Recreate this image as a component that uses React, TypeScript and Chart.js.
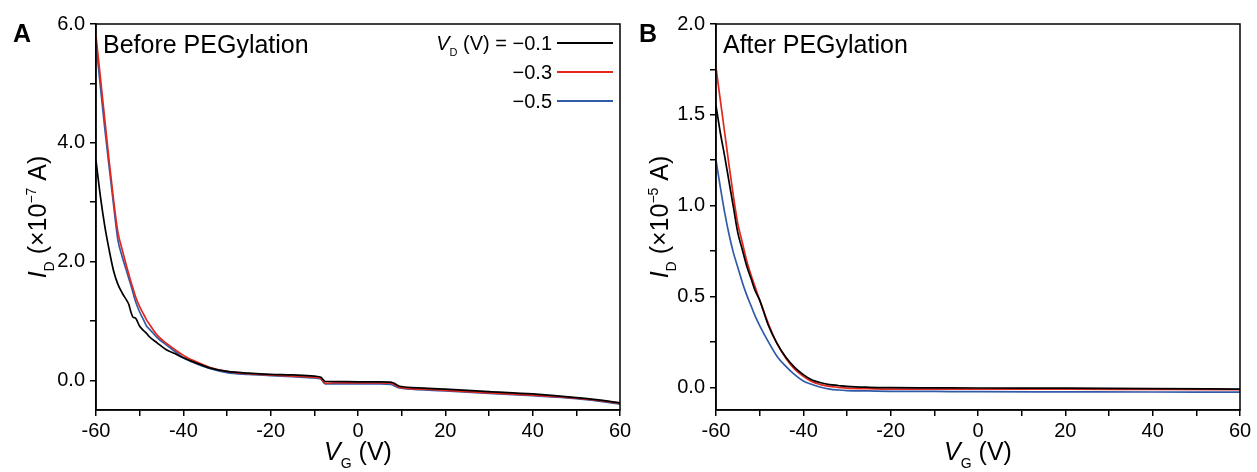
import React, { useEffect, useRef } from 'react';
import { Chart, registerables } from 'chart.js';

Chart.register(...registerables);

// ---------- Panel A: Before PEGylation (I_D in 1e-7 A) ----------
const vgA = [-60, -59, -58, -57, -56, -55, -54, -53, -52.5, -52, -51.5, -51, -50, -49, -48.3, -48, -46, -44, -42, -40, -37, -34, -30, -25, -20, -15, -10, -8.5, -7.5, -5, 0, 5, 7.5, 8.5, 9.5, 15, 20, 30, 40, 50, 55, 60];
const idA_01 = [3.7, 3.1, 2.6, 2.2, 1.85, 1.62, 1.47, 1.35, 1.28, 1.15, 1.06, 1.05, 0.91, 0.83, 0.78, 0.75, 0.63, 0.52, 0.45, 0.38, 0.29, 0.21, 0.15, 0.12, 0.1, 0.09, 0.07, 0.05, -0.02, -0.02, -0.025, -0.025, -0.03, -0.06, -0.1, -0.13, -0.15, -0.19, -0.23, -0.29, -0.33, -0.38];
const idA_03 = [5.8, 5.1, 4.4, 3.7, 3.05, 2.5, 2.2, 1.92, 1.79, 1.66, 1.54, 1.42, 1.24, 1.1, 1.0, 0.97, 0.76, 0.63, 0.52, 0.42, 0.31, 0.22, 0.15, 0.11, 0.09, 0.07, 0.05, 0.03, -0.05, -0.04, -0.045, -0.045, -0.05, -0.08, -0.12, -0.15, -0.17, -0.21, -0.25, -0.3, -0.34, -0.39];
const idA_05 = [5.68, 4.95, 4.25, 3.6, 2.97, 2.37, 2.08, 1.84, 1.72, 1.6, 1.47, 1.34, 1.15, 1.0, 0.9, 0.88, 0.72, 0.6, 0.49, 0.38, 0.28, 0.2, 0.13, 0.1, 0.08, 0.06, 0.04, 0.02, -0.06, -0.06, -0.06, -0.06, -0.07, -0.1, -0.13, -0.16, -0.18, -0.22, -0.26, -0.31, -0.35, -0.4];

// ---------- Panel B: After PEGylation (I_D in 1e-5 A) ----------
const vgB = [-60, -59, -58, -57, -56, -55, -54, -53, -52, -51, -50, -48, -46, -44, -42, -40, -38, -36, -34, -32, -30, -25, -20, -10, 0, 20, 40, 60];
const idB_01 = [1.55, 1.4, 1.27, 1.13, 0.99, 0.85, 0.76, 0.67, 0.6, 0.53, 0.48, 0.34, 0.24, 0.165, 0.11, 0.07, 0.04, 0.025, 0.015, 0.01, 0.005, 0.0, -0.002, -0.003, -0.004, -0.005, -0.007, -0.01];
const idB_03 = [1.76, 1.58, 1.4, 1.22, 1.05, 0.9, 0.8, 0.7, 0.62, 0.55, 0.48, 0.35, 0.24, 0.16, 0.1, 0.06, 0.03, 0.015, 0.005, 0.0, -0.005, -0.008, -0.01, -0.01, -0.01, -0.01, -0.012, -0.013];
const idB_05 = [1.25, 1.1, 0.96, 0.84, 0.74, 0.66, 0.58, 0.51, 0.45, 0.39, 0.34, 0.25, 0.17, 0.115, 0.07, 0.035, 0.015, 0.0, -0.01, -0.015, -0.018, -0.02, -0.022, -0.023, -0.024, -0.025, -0.026, -0.027];

// ---------- Axes ----------
const xTicks = [-60, -50, -40, -30, -20, -10, 0, 10, 20, 30, 40, 50, 60];
const xTickLabels = ['-60', '', '-40', '', '-20', '', '0', '', '20', '', '40', '', '60'];
const yTicksA = [0, 1, 2, 3, 4, 5, 6];
const yTickLabelsA = ['0.0', '', '2.0', '', '4.0', '', '6.0'];
const yTicksB = [0, 0.25, 0.5, 0.75, 1.0, 1.25, 1.5, 1.75, 2.0];
const yTickLabelsB = ['0.0', '', '0.5', '', '1.0', '', '1.5', '', '2.0'];

// ---------- Legend ----------
const legendValues = ['\u22120.1', '\u22120.3', '\u22120.5'];
const seriesColors = ['#000000', '#e3271e', '#2f5ba8'];

const FONT = "'Liberation Sans', Arial, Helvetica, sans-serif";

type Seg = { t: string; italic?: boolean; sub?: boolean; sup?: boolean };

function segFont(s: Seg, size: number) {
  const sz = s.sub || s.sup ? Math.round(size * 0.56) : size;
  return `${s.italic ? 'italic ' : ''}${sz}px ${FONT}`;
}

function drawRich(ctx: CanvasRenderingContext2D, segs: Seg[], x: number, y: number, size: number, align: 'left' | 'center' | 'right') {
  let total = 0;
  const widths = segs.map((s) => {
    ctx.font = segFont(s, size);
    const w = ctx.measureText(s.t).width;
    total += w;
    return w;
  });
  let cx = align === 'left' ? x : align === 'center' ? x - total / 2 : x - total;
  ctx.textAlign = 'left';
  ctx.textBaseline = 'alphabetic';
  segs.forEach((s, i) => {
    ctx.font = segFont(s, size);
    const dy = s.sub ? size * 0.3 : s.sup ? -size * 0.42 : 0;
    ctx.fillText(s.t, cx, y + dy);
    cx += widths[i];
  });
}

type PanelCfg = {
  letter: string;
  letterX: number;
  inner: string;
  innerX: number;
  yTitle: Seg[];
  yTitleX: number;
  legend: boolean;
};

function decorPlugin(cfg: PanelCfg) {
  return {
    id: 'decor',
    afterDatasetsDraw(chart: any) {
      const ctx: CanvasRenderingContext2D = chart.ctx;
      const a = chart.chartArea;
      ctx.save();
      ctx.strokeStyle = '#000';
      ctx.lineWidth = 1.5;
      ctx.strokeRect(a.left, a.top, a.right - a.left, a.bottom - a.top);
      ctx.fillStyle = '#000';
      // panel letter
      ctx.font = `bold 25px ${FONT}`;
      ctx.textAlign = 'left';
      ctx.textBaseline = 'alphabetic';
      ctx.fillText(cfg.letter, cfg.letterX, 42);
      // inner label
      ctx.font = `25px ${FONT}`;
      ctx.fillText(cfg.inner, cfg.innerX, 53);
      // x title
      drawRich(ctx, [{ t: 'V', italic: true }, { t: 'G', sub: true }, { t: ' (V)' }], (a.left + a.right) / 2, 460, 25, 'center');
      // y title
      ctx.save();
      ctx.translate(cfg.yTitleX, (a.top + a.bottom) / 2);
      ctx.rotate(-Math.PI / 2);
      drawRich(ctx, cfg.yTitle, 0, 0, 25, 'center');
      ctx.restore();
      // legend
      if (cfg.legend) {
        const rows = [43, 72, 101];
        rows.forEach((ry, i) => {
          const segs: Seg[] = i === 0
            ? [{ t: 'V', italic: true }, { t: 'D', sub: true }, { t: ' (V) = ' + legendValues[i] }]
            : [{ t: legendValues[i] }];
          drawRich(ctx, segs, 552, ry + 7, 20, 'right');
          ctx.strokeStyle = seriesColors[i];
          ctx.lineWidth = 2;
          ctx.beginPath();
          ctx.moveTo(557, ry);
          ctx.lineTo(613, ry);
          ctx.stroke();
        });
      }
      ctx.restore();
    },
  };
}

function makeDataset(label: string, xs: number[], ys: number[], color: string, order: number) {
  return {
    label,
    data: xs.map((x, i) => ({ x, y: ys[i] })),
    borderColor: color,
    backgroundColor: color,
    borderWidth: 1.7,
    pointRadius: 0,
    cubicInterpolationMode: 'monotone' as const,
    fill: false,
    order,
  };
}

function buildChart(
  canvas: HTMLCanvasElement,
  datasets: any[],
  yMin: number,
  yMax: number,
  yTicks: number[],
  yLabels: string[],
  yWidth: number,
  padRight: number,
  cfg: PanelCfg,
) {
  const tickFont = { family: FONT, size: 20 };
  return new Chart(canvas, {
    type: 'line',
    data: { datasets },
    options: {
      animation: false,
      responsive: false,
      devicePixelRatio: 1,
      layout: { padding: { left: 0, top: 24, right: padRight, bottom: 0 } },
      plugins: { legend: { display: false }, tooltip: { enabled: false } },
      scales: {
        x: {
          type: 'linear',
          min: -60,
          max: 60,
          afterBuildTicks: (s: any) => {
            s.ticks = xTicks.map((v) => ({ value: v }));
          },
          afterFit: (s: any) => {
            s.height = 62;
          },
          ticks: {
            autoSkip: false,
            maxRotation: 0,
            color: '#000',
            font: tickFont,
            padding: 3,
            callback: (_v: any, i: number) => xTickLabels[i],
          },
          grid: { drawOnChartArea: false, drawTicks: true, tickLength: 6, color: '#000', lineWidth: 1.5 },
          border: { display: true, color: '#000', width: 1.5 },
        },
        y: {
          type: 'linear',
          min: yMin,
          max: yMax,
          afterBuildTicks: (s: any) => {
            s.ticks = yTicks.map((v) => ({ value: v }));
          },
          afterFit: (s: any) => {
            s.width = yWidth;
          },
          ticks: {
            autoSkip: false,
            color: '#000',
            font: tickFont,
            padding: 5,
            callback: (_v: any, i: number) => yLabels[i],
          },
          grid: { drawOnChartArea: false, drawTicks: true, tickLength: 6, color: '#000', lineWidth: 1.5 },
          border: { display: true, color: '#000', width: 1.5 },
        },
      },
    },
    plugins: [decorPlugin(cfg)],
  } as any);
}

export default function App() {
  const refA = useRef<HTMLCanvasElement>(null);
  const refB = useRef<HTMLCanvasElement>(null);

  useEffect(() => {
    const chartA = buildChart(
      refA.current!,
      [
        makeDataset('-0.1', vgA, idA_01, seriesColors[0], 0),
        makeDataset('-0.3', vgA, idA_03, seriesColors[1], 1),
        makeDataset('-0.5', vgA, idA_05, seriesColors[2], 2),
      ],
      -0.5,
      6,
      yTicksA,
      yTickLabelsA,
      96,
      20,
      {
        letter: 'A',
        letterX: 13,
        inner: 'Before PEGylation',
        innerX: 103,
        yTitle: [{ t: 'I', italic: true }, { t: 'D', sub: true }, { t: ' (\u00d710' }, { t: '\u22127', sup: true }, { t: ' A)' }],
        yTitleX: 46,
        legend: true,
      },
    );
    const chartB = buildChart(
      refB.current!,
      [
        makeDataset('-0.1', vgB, idB_01, seriesColors[0], 0),
        makeDataset('-0.3', vgB, idB_03, seriesColors[1], 1),
        makeDataset('-0.5', vgB, idB_05, seriesColors[2], 2),
      ],
      -0.125,
      2,
      yTicksB,
      yTickLabelsB,
      86,
      17,
      {
        letter: 'B',
        letterX: 9,
        inner: 'After PEGylation',
        innerX: 93,
        yTitle: [{ t: 'I', italic: true }, { t: 'D', sub: true }, { t: ' (\u00d710' }, { t: '\u22125', sup: true }, { t: ' A)' }],
        yTitleX: 38,
        legend: false,
      },
    );
    return () => {
      chartA.destroy();
      chartB.destroy();
    };
  }, []);

  return (
    <div style={{ position: 'absolute', left: 0, top: 0, width: 1257, height: 472, background: '#fff', overflow: 'hidden' }}>
      <canvas ref={refA} width={640} height={472} style={{ position: 'absolute', left: 0, top: 0, width: 640, height: 472 }} />
      <canvas ref={refB} width={627} height={472} style={{ position: 'absolute', left: 630, top: 0, width: 627, height: 472 }} />
    </div>
  );
}
